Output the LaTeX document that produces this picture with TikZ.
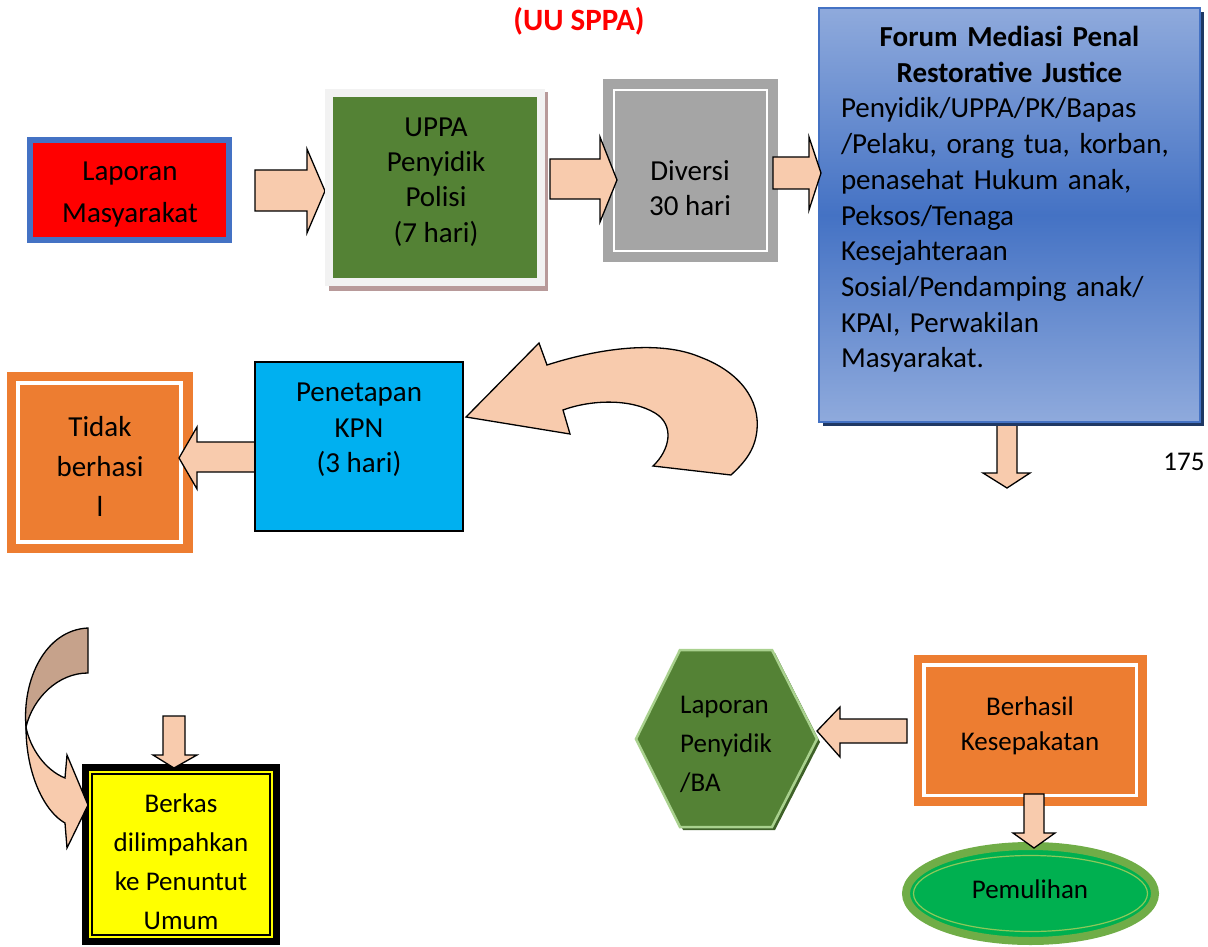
\documentclass[tikz,border=0pt]{standalone}
\usepackage{fontspec}
\setmainfont{Carlito}
\usetikzlibrary{shapes.geometric}
\definecolor{peach}{HTML}{F8CBAD}
\definecolor{peachdark}{HTML}{C6A28B}
\definecolor{bluebd}{HTML}{4472C4}
\definecolor{lightblue}{HTML}{8FAADC}
\definecolor{navy}{HTML}{1F3864}
\definecolor{green1}{HTML}{548235}
\definecolor{lgray}{HTML}{F2F2F2}
\definecolor{shadowpink}{HTML}{B89A9A}
\definecolor{gray1}{HTML}{A5A5A5}
\definecolor{cyan1}{HTML}{00B0F0}
\definecolor{orange1}{HTML}{ED7D31}
\definecolor{yellow1}{HTML}{FFFF00}
\definecolor{hexedge}{HTML}{A9D18E}
\definecolor{hexshadow}{HTML}{3E6128}
\definecolor{ringgreen}{HTML}{70AD47}
\definecolor{fillgreen}{HTML}{00B050}
\definecolor{innerring}{HTML}{8CC85A}
\begin{document}
\begin{tikzpicture}[x=1pt,y=-1pt,
  txt/.style={font=\fontsize{29}{35.4}\selectfont, align=center, inner sep=0pt},
  txts/.style={font=\fontsize{27}{39}\selectfont, align=center, inner sep=0pt},
  box/.style={rectangle, inner sep=0pt, outer sep=0pt},
  blockarrow/.style={fill=peach, draw=black, line width=1.3pt, line join=miter},
]
\useasboundingbox (0,0) rectangle (1208,947);

% title
\node[font=\fontsize{31}{36}\selectfont\bfseries, text=red, inner sep=0pt] (title) at (579,21) {(UU SPPA)};

% Laporan Masyarakat
\node[box, draw=bluebd, line width=6pt, fill=red, minimum width=199pt, minimum height=100pt] (lap) at (129.5,190) {};
\node[txt, font=\fontsize{29}{42}\selectfont] (lapT) at (130,195) {Laporan\\Masyarakat};
\draw[blockarrow] (255,170) -- (307,170) -- (307,149) -- (325,191) -- (307,233) -- (307,211) -- (255,211) -- cycle;

% UPPA
\fill[shadowpink] (329,92) rectangle (548,291);
\node[box, fill=green1, draw=lgray, line width=8pt, minimum width=212pt, minimum height=189pt] (uppa) at (435,187.5) {};
\node[txt] (uppaT) at (436,182) {UPPA\\Penyidik\\Polisi\\(7 hari)};

% Diversi
\node[box, fill=gray1, minimum width=175pt, minimum height=183pt] (div) at (690.5,170.5) {};
\draw[white, line width=2.5pt] (614,90) rectangle (767,251);
\node[txt] (divT) at (690,188) {Diversi\\30 hari};
\draw[blockarrow] (550,159) -- (600,159) -- (600,137) -- (617,180) -- (600,222) -- (600,199) -- (550,199) -- cycle;

% Forum
\draw[blockarrow] (997,420) -- (1017,420) -- (1017,473) -- (1030,473) -- (1007,488) -- (983,473) -- (997,473) -- cycle;
\fill[navy] (823,12) rectangle (1204,426);
\node[box, draw=bluebd, line width=2pt, top color=lightblue, bottom color=lightblue, middle color=bluebd,
      minimum width=381pt, minimum height=414pt] (forum) at (1009.5,215) {};
\node[inner sep=0pt, text width=337pt, align=left, anchor=north, font=\fontsize{29}{35.7}\selectfont] (forumT) at (1009.5,26)
 {\makebox[337pt]{\bfseries Forum Mediasi Penal}\\\makebox[337pt]{\bfseries Restorative Justice}\\Penyidik/UPPA/PK/Bapas\\/Pelaku, orang tua, korban,\\penasehat Hukum anak,\\Peksos/Tenaga\\Kesejahteraan\\Sosial/Pendamping anak/\\KPAI, Perwakilan\\Masyarakat.};
\draw[blockarrow] (773,157) -- (809,157) -- (809,137) -- (821,173) -- (809,210) -- (809,189) -- (773,189) -- cycle;

\node[font=\fontsize{27}{32}\selectfont, inner sep=0pt] (pg) at (1184,462) {175};

% U-turn arrow
\draw[blockarrow] (466,417) -- (539,343) -- (547,365)
  .. controls (600,348) and (660,340) .. (700,357)
  .. controls (740,372) and (760,400) .. (757,430)
  .. controls (755,450) and (745,462) .. (731,475)
  -- (653,466)
  .. controls (670,450) and (675,425) .. (655,413)
  .. controls (630,398) and (590,400) .. (563,410)
  -- (570,434) -- cycle;

% Tidak berhasil
\node[box, fill=orange1, minimum width=186pt, minimum height=181pt] (tid) at (100,462.5) {};
\draw[white, line width=4pt] (17.5,382.5) rectangle (181,541.5);
\node[txt, font=\fontsize{29}{40}\selectfont] (tidT) at (100,466) {Tidak\\berhasi\\l};
\draw[blockarrow] (260,442) -- (197,442) -- (197,427) -- (179,458) -- (197,489) -- (197,472) -- (260,472) -- cycle;

% Penetapan
\node[box, fill=cyan1, draw=black, line width=1.5pt, minimum width=208pt, minimum height=169pt] (pen) at (359,446.5) {};
\node[txt] (penT) at (359,430) {Penetapan\\KPN\\(3 hari)};

% Berkas
\node[box, fill=yellow1, draw=black, line width=7pt, minimum width=191pt, minimum height=174pt] (berk) at (181,854.5) {};
\draw[black, line width=1.8pt] (92,774) rectangle (270,935);
\node[txts] (berkT) at (181,862) {Berkas\\dilimpahkan\\ke Penuntut\\Umum};
\draw[blockarrow] (163,716) -- (185,716) -- (185,755) -- (197,755) -- (174,768) -- (153,755) -- (163,755) -- cycle;

% bottom-left curved arrow
\draw[fill=peachdark, draw=black, line width=1.3pt] (88,628) -- (88,673)
  .. controls (58,673) and (33,698) .. (26,727)
  .. controls (22,680) and (45,630) .. (88,628) -- cycle;
\draw[blockarrow] (26,727) .. controls (30,748) and (45,770) .. (65,778)
  -- (67,755) -- (88,805) -- (67,848) -- (65,823)
  .. controls (45,812) and (26,775) .. (26,727) -- cycle;

% Hexagon
\fill[hexshadow] (639,742) -- (683,653) -- (775,653) -- (820,742) -- (775,830) -- (683,830) -- cycle;
\draw[hexedge, fill=green1, line width=2.5pt] (636,739) -- (680,650) -- (772,650) -- (817,739) -- (772,827) -- (680,827) -- cycle;
\node[txts, align=left, anchor=west] (hex) at (680,744) {Laporan\\Penyidik\\/BA};

% Berhasil
\node[box, fill=orange1, minimum width=233pt, minimum height=151pt] (ber) at (1030.5,730.5) {};
\draw[white, line width=3.5pt] (924,665) rectangle (1136.5,795.5);
\node[txts, font=\fontsize{27}{35}\selectfont] (berT) at (1030,726) {Berhasil\\Kesepakatan};
\draw[blockarrow] (907,719) -- (840,719) -- (840,707) -- (817,731) -- (840,757) -- (840,743) -- (907,743) -- cycle;

% Pemulihan
\node[ellipse, draw=ringgreen, fill=fillgreen, line width=8pt, minimum width=249pt, minimum height=95pt, inner sep=0pt] (pem) at (1030.5,893.5) {};
\draw[innerring, line width=1.2pt] (pem.center) ellipse [x radius=117pt, y radius=38pt];
\node[txts] (pemT) at (1030,889) {Pemulihan};
\draw[blockarrow] (1024,794) -- (1044,794) -- (1044,833) -- (1055,833) -- (1034,848) -- (1013,833) -- (1024,833) -- cycle;
\end{tikzpicture}
\end{document}
